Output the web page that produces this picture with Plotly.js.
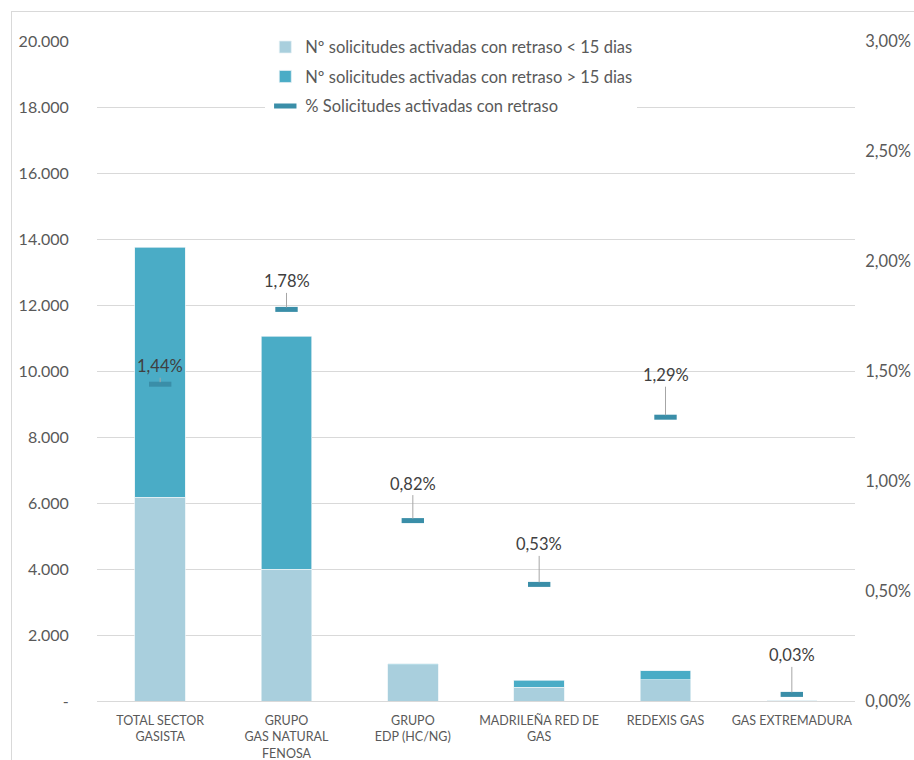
<!DOCTYPE html>
<html>
<head>
<meta charset="utf-8">
<script src="https://cdn.plot.ly/plotly-3.0.1.min.js"></script>
<style>
    body { margin: 0; background: #fff; overflow: hidden; }
    #frame { position: absolute; left: 11px; top: 11px; width: 940px; height: 800px; border: 1px solid #d9d9d9; }
    #chart { position: absolute; left: 0; top: 0; width: 914px; height: 760px; }
</style>
</head>
<body>
<div id="frame"></div>
<div id="chart"></div>
<script>
// Solicitudes activadas con retraso por distribuidora

const categories = [
    'TOTAL SECTOR<br>GASISTA',
    'GRUPO<br>GAS NATURAL<br>FENOSA',
    'GRUPO<br>EDP (HC/NG)',
    'MADRILEÑA RED DE<br>GAS',
    'REDEXIS GAS',
    'GAS EXTREMADURA'
];
const retrasoMenos15 = [6180, 4000, 1100, 415, 645, 3];
const retrasoMas15 = [7570, 7060, 35, 212, 273, 1];
const pctRetraso = [0.0144, 0.0178, 0.0082, 0.0053, 0.0129, 0.0003];

const leftTicks = [0, 2000, 4000, 6000, 8000, 10000, 12000, 14000, 16000, 18000, 20000];
const leftTickText = ['-', '2.000', '4.000', '6.000', '8.000', '10.000', '12.000', '14.000', '16.000', '18.000', '20.000'];

// vertical offset (px) of each percent label above its marker
const labelLift = [-18, -28, -37, -40, -42, -39];

const FONT = 'Lato, "Open Sans", sans-serif';
const GREY = '#595959';

const traces = [
    {
        x: categories,
        y: retrasoMenos15,
        type: 'bar',
        name: 'Nº solicitudes activadas con retraso < 15 dias',
        legendgroup: 'a',
        marker: { color: '#a9cfdd', line: { color: '#e6f1f5', width: 0.7 } }
    },
    {
        x: categories,
        y: retrasoMas15,
        type: 'bar',
        name: 'Nº solicitudes activadas con retraso > 15 dias',
        legendgroup: 'b',
        marker: { color: '#4aacc6', line: { color: '#e6f1f5', width: 0.7 } }
    },
    {
        x: categories,
        y: pctRetraso,
        type: 'scatter',
        mode: 'markers',
        yaxis: 'y2',
        name: '% Solicitudes activadas con retraso',
        legendgroup: 'c',
        marker: { symbol: 'line-ew', size: 16, color: '#3a8ea8', line: { color: '#3a8ea8', width: 5 } }
    }
];

const annotations = pctRetraso.map((v, i) => ({
    x: categories[i],
    y: v,
    yref: 'y2',
    text: (v * 100).toFixed(2).replace('.', ',') + '%',
    showarrow: true,
    arrowhead: 0,
    arrowwidth: 1,
    arrowcolor: '#a6a6a6',
    standoff: 2,
    ax: 0,
    ay: labelLift[i],
    font: { family: FONT, size: 16.5, color: '#404040' }
}));

const layout = {
    width: 914,
    height: 760,
    paper_bgcolor: 'rgba(0,0,0,0)',
    plot_bgcolor: 'rgba(0,0,0,0)',
    separators: ',.',
    margin: { l: 97, r: 59, t: 41, b: 59 },
    font: { family: FONT, color: GREY },
    barmode: 'stack',
    bargap: 0.6,
    showlegend: true,
    legend: {
        x: 0.222, y: 1.017, xanchor: 'left', yanchor: 'top',
        bgcolor: '#ffffff',
        traceorder: 'grouped',
        tracegroupgap: 5,
        font: { family: FONT, size: 16.5, color: GREY }
    },
    xaxis: {
        showline: false,
        ticks: 'outside',
        ticklen: 8,
        tickcolor: 'rgba(0,0,0,0)',
        tickfont: { family: FONT, size: 12.5, color: GREY },
        tickangle: 0
    },
    yaxis: {
        range: [0, 20000],
        tickvals: leftTicks,
        ticktext: leftTickText,
        showgrid: true,
        gridcolor: '#d9d9d9',
        zeroline: true,
        zerolinecolor: '#d9d9d9',
        showline: false,
        ticks: 'outside',
        ticklen: 24,
        tickcolor: 'rgba(0,0,0,0)',
        tickfont: { family: FONT, size: 16, color: GREY }
    },
    yaxis2: {
        overlaying: 'y',
        side: 'right',
        range: [0, 0.03],
        dtick: 0.005,
        tickformat: '.2%',
        showgrid: false,
        zeroline: false,
        showline: false,
        ticks: 'outside',
        ticklen: 6,
        tickcolor: 'rgba(0,0,0,0)',
        tickfont: { family: FONT, size: 16.5, color: GREY }
    },
    annotations: annotations
};

Plotly.newPlot('chart', traces, layout, { displayModeBar: false, responsive: false });
</script>
</body>
</html>
